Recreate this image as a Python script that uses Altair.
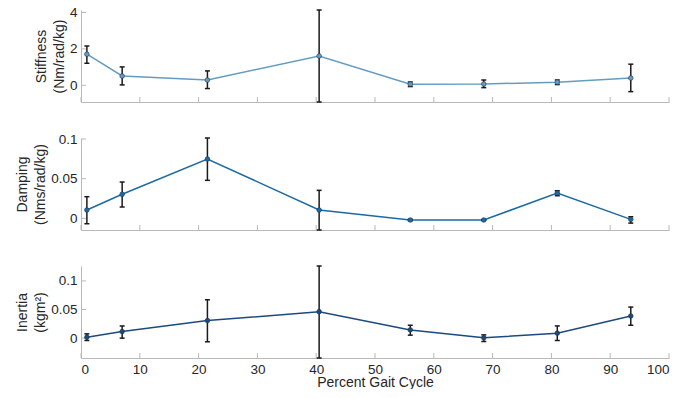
import altair as alt
import pandas as pd

# Percent gait cycle positions
gait_x = [1, 7, 21.5, 40.5, 56, 68.5, 81, 93.5]

stiff = [1.71, 0.51, 0.29, 1.61, 0.06, 0.07, 0.17, 0.40]
stiff_lo = [1.21, 0.02, -0.18, -0.92, -0.07, -0.13, 0.04, -0.35]
stiff_hi = [2.16, 1.01, 0.79, 4.14, 0.18, 0.29, 0.29, 1.16]

damp = [0.0105, 0.0303, 0.0748, 0.0105, -0.0021, -0.0021, 0.0319, -0.0013]
damp_lo = [-0.0068, 0.0143, 0.0479, -0.0147, -0.0028, -0.0026, 0.0285, -0.0060]
damp_hi = [0.0273, 0.0458, 0.1013, 0.0353, -0.0014, -0.0016, 0.0348, 0.0020]

inert = [0.0017, 0.0115, 0.0306, 0.0462, 0.0144, 0.0005, 0.0087, 0.0387]
inert_lo = [-0.0041, 0.0000, -0.0064, -0.0347, 0.0052, -0.0059, -0.0041, 0.0225]
inert_hi = [0.0075, 0.0213, 0.0670, 0.1260, 0.0225, 0.0057, 0.0213, 0.0543]

x_ticks = [0, 10, 20, 30, 40, 50, 60, 70, 80, 90, 100]
stiff_ticks = [0, 2, 4]
damp_ticks = [0, 0.05, 0.1]
inert_ticks = [0, 0.05, 0.1]

W, H = 588, 92
GAP = 36
AXIS_GRAY = "#b8b8b8"
TXT = "#262626"
FONT = "Liberation Sans"


def panel(y, lo, hi, yticks, title, color, bottom=False):
    df = pd.DataFrame({"x": gait_x, "y": y, "lo": lo, "hi": hi})
    dom = [min(lo), max(hi)]
    xscale = alt.Scale(domain=[0, 100], nice=False, zero=False)
    yscale = alt.Scale(domain=dom, nice=False, zero=False)
    if bottom:
        xaxis = alt.Axis(values=x_ticks, title="Percent Gait Cycle", labelPadding=4,
                         titlePadding=0)
    else:
        xaxis = alt.Axis(labels=False, title=None)
    yaxis = alt.Axis(values=yticks, format="~g", title=title, labelPadding=4,
                     titlePadding=3, titleLineHeight=18)
    base = alt.Chart(df)
    line = base.mark_line(color=color, strokeWidth=1.5).encode(
        x=alt.X("x:Q", scale=xscale, axis=xaxis),
        y=alt.Y("y:Q", scale=yscale, axis=yaxis),
    )
    bars = base.mark_rule(color="#1a1a1a", strokeWidth=1.5).encode(
        x="x:Q", y="lo:Q", y2="hi:Q")
    cap_lo = base.mark_rule(color="#1a1a1a", strokeWidth=1.5, xOffset=-2.5, x2Offset=2.5).encode(
        x="x:Q", x2="x:Q", y="lo:Q")
    cap_hi = base.mark_rule(color="#1a1a1a", strokeWidth=1.5, xOffset=-2.5, x2Offset=2.5).encode(
        x="x:Q", x2="x:Q", y="hi:Q")
    pts = base.mark_point(filled=True, color=color, size=22, opacity=1,
                          stroke="#1f3550", strokeWidth=0.6).encode(x="x:Q", y="y:Q")
    xt = alt.Chart(pd.DataFrame({"t": x_ticks})).mark_rule(color=AXIS_GRAY, strokeWidth=1).encode(
        x="t:Q", y=alt.value(H), y2=alt.value(H - 5))
    yt = alt.Chart(pd.DataFrame({"t": yticks})).mark_rule(color=AXIS_GRAY, strokeWidth=1).encode(
        y="t:Q", x=alt.value(0), x2=alt.value(5))
    return alt.layer(line, xt, yt, bars, cap_lo, cap_hi, pts).properties(width=W, height=H)


p1 = panel(stiff, stiff_lo, stiff_hi, stiff_ticks, ["Stiffness", "(Nm/rad/kg)"], "#659cc0")
p2 = panel(damp, damp_lo, damp_hi, damp_ticks, ["Damping", "(Nms/rad/kg)"], "#1b6aa5")
p3 = panel(inert, inert_lo, inert_hi, inert_ticks, ["Inertia", "(kgm²)"], "#1c4a7e", bottom=True)

stack = 3 * H + 2 * GAP
chart = alt.vconcat(p1, p2, p3, spacing=GAP, bounds="flush").properties(
    autosize=alt.AutoSizeParams(type="none"),
    padding={"left": 73, "top": 2, "right": 20, "bottom": stack + 31},
).configure_view(stroke=None).configure_axis(
    grid=False, ticks=False, tickSize=0, domainColor=AXIS_GRAY, domainWidth=1,
    labelColor=TXT, labelFont=FONT, labelFontSize=13.5,
    titleColor=TXT, titleFont=FONT, titleFontSize=14, titleFontWeight="normal",
)

chart.save("out.html", embed_options={"renderer": "svg", "actions": False})
